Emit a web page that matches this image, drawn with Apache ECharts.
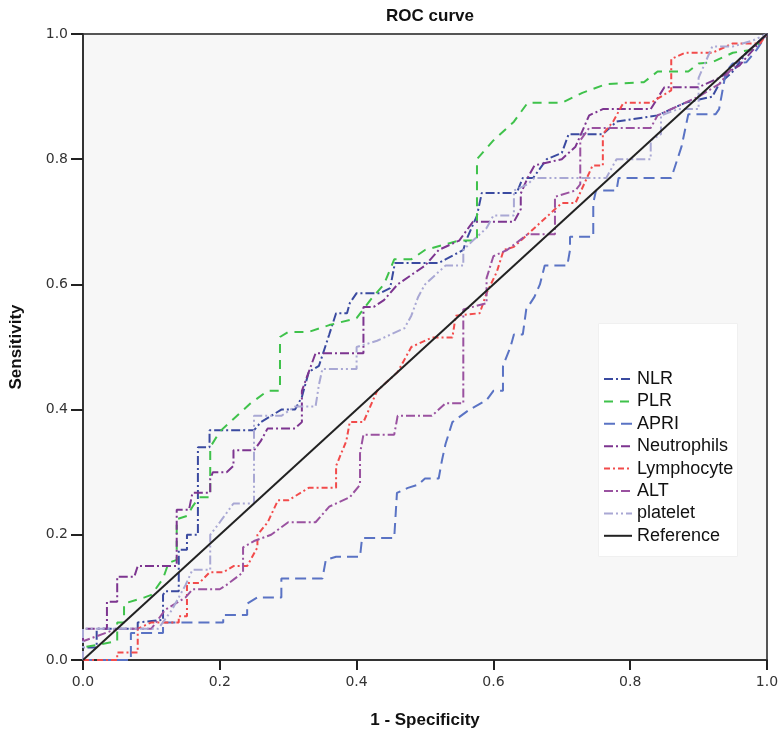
<!DOCTYPE html>
<html>
<head>
<meta charset="utf-8">
<script src="https://cdn.jsdelivr.net/npm/echarts@6/dist/echarts.min.js"></script>
<style>
html,body{margin:0;padding:0;background:#fff;}
#chart{width:784px;height:751px;}
</style>
</head>
<body>
<div id="chart"></div>
<script>
// ---- data ----
const xTicks = [0, 0.2, 0.4, 0.6, 0.8, 1.0];
const seriesNames = ['NLR', 'PLR', 'APRI', 'Neutrophils', 'Lymphocyte', 'ALT', 'platelet', 'Reference'];

const nlr = [[0,0],[0,0.02],[0.02,0.02],[0.02,0.05],[0.08,0.05],[0.08,0.06],[0.117,0.064],[0.117,0.104],[0.12,0.11],[0.14,0.11],[0.14,0.176],[0.152,0.176],[0.152,0.2],[0.168,0.2],[0.168,0.34],[0.185,0.34],[0.185,0.367],[0.25,0.367],[0.26,0.38],[0.29,0.4],[0.31,0.4],[0.32,0.42],[0.33,0.46],[0.345,0.47],[0.354,0.5],[0.36,0.52],[0.37,0.554],[0.386,0.554],[0.39,0.57],[0.4,0.586],[0.434,0.586],[0.449,0.594],[0.456,0.634],[0.52,0.634],[0.53,0.64],[0.556,0.655],[0.56,0.67],[0.576,0.71],[0.583,0.746],[0.634,0.746],[0.643,0.77],[0.658,0.77],[0.678,0.8],[0.7,0.81],[0.71,0.84],[0.76,0.84],[0.78,0.86],[0.84,0.87],[0.88,0.89],[0.92,0.9],[0.93,0.92],[0.95,0.94],[0.97,0.97],[1,1]];

const plr = [[0,0],[0,0.02],[0.025,0.025],[0.05,0.03],[0.05,0.06],[0.06,0.06],[0.06,0.09],[0.09,0.1],[0.1,0.104],[0.117,0.13],[0.125,0.155],[0.137,0.16],[0.137,0.225],[0.152,0.23],[0.16,0.245],[0.17,0.26],[0.186,0.26],[0.186,0.34],[0.2,0.365],[0.22,0.385],[0.245,0.41],[0.27,0.43],[0.288,0.43],[0.288,0.516],[0.3,0.524],[0.33,0.524],[0.36,0.535],[0.4,0.546],[0.42,0.575],[0.44,0.6],[0.455,0.64],[0.48,0.64],[0.5,0.655],[0.55,0.67],[0.576,0.67],[0.576,0.8],[0.6,0.83],[0.63,0.86],[0.65,0.89],[0.7,0.89],[0.73,0.906],[0.765,0.92],[0.82,0.923],[0.84,0.94],[0.885,0.94],[0.9,0.953],[0.92,0.955],[0.95,0.97],[0.98,0.975],[1,1]];

const apri = [[0,0],[0.07,0],[0.07,0.043],[0.117,0.043],[0.117,0.06],[0.205,0.06],[0.205,0.072],[0.24,0.072],[0.24,0.09],[0.255,0.1],[0.29,0.1],[0.29,0.13],[0.35,0.13],[0.355,0.16],[0.37,0.165],[0.405,0.165],[0.408,0.195],[0.455,0.195],[0.459,0.267],[0.475,0.275],[0.49,0.28],[0.5,0.29],[0.52,0.29],[0.525,0.32],[0.53,0.345],[0.54,0.38],[0.565,0.4],[0.59,0.415],[0.6,0.43],[0.614,0.43],[0.614,0.47],[0.625,0.5],[0.63,0.52],[0.643,0.52],[0.648,0.56],[0.66,0.58],[0.668,0.6],[0.675,0.63],[0.708,0.63],[0.712,0.655],[0.712,0.676],[0.746,0.676],[0.746,0.73],[0.75,0.75],[0.78,0.75],[0.783,0.77],[0.86,0.77],[0.866,0.79],[0.875,0.82],[0.885,0.872],[0.925,0.872],[0.93,0.88],[0.94,0.94],[0.95,0.953],[0.97,0.955],[0.985,0.975],[1,1]];

const neutrophils = [[0,0],[0,0.05],[0.035,0.05],[0.035,0.093],[0.05,0.093],[0.05,0.133],[0.075,0.133],[0.08,0.15],[0.137,0.15],[0.137,0.24],[0.155,0.24],[0.16,0.267],[0.186,0.267],[0.186,0.29],[0.19,0.3],[0.21,0.3],[0.22,0.31],[0.22,0.335],[0.25,0.335],[0.26,0.35],[0.27,0.37],[0.31,0.37],[0.32,0.38],[0.32,0.43],[0.33,0.46],[0.34,0.49],[0.41,0.49],[0.41,0.564],[0.425,0.564],[0.44,0.575],[0.46,0.6],[0.5,0.63],[0.52,0.655],[0.55,0.67],[0.57,0.7],[0.63,0.7],[0.64,0.72],[0.64,0.745],[0.65,0.77],[0.66,0.79],[0.7,0.8],[0.72,0.82],[0.74,0.87],[0.76,0.88],[0.83,0.88],[0.85,0.915],[0.9,0.915],[0.93,0.93],[0.96,0.95],[1,1]];

const lymphocyte = [[0,0],[0.05,0],[0.05,0.012],[0.08,0.012],[0.08,0.05],[0.1,0.06],[0.14,0.06],[0.14,0.07],[0.152,0.07],[0.152,0.123],[0.17,0.123],[0.185,0.14],[0.205,0.14],[0.22,0.15],[0.24,0.15],[0.255,0.18],[0.255,0.2],[0.27,0.22],[0.285,0.255],[0.3,0.255],[0.33,0.275],[0.37,0.275],[0.37,0.31],[0.385,0.35],[0.39,0.38],[0.41,0.38],[0.43,0.43],[0.46,0.46],[0.48,0.5],[0.51,0.515],[0.54,0.515],[0.545,0.55],[0.58,0.554],[0.59,0.586],[0.605,0.62],[0.615,0.655],[0.63,0.66],[0.67,0.7],[0.7,0.73],[0.72,0.73],[0.745,0.79],[0.76,0.79],[0.76,0.84],[0.775,0.86],[0.79,0.89],[0.83,0.89],[0.86,0.91],[0.86,0.96],[0.88,0.97],[0.92,0.97],[0.95,0.985],[0.99,0.985],[1,1]];

const alt = [[0,0],[0,0.03],[0.05,0.05],[0.1,0.05],[0.12,0.08],[0.15,0.1],[0.16,0.113],[0.2,0.113],[0.21,0.12],[0.234,0.14],[0.234,0.18],[0.25,0.19],[0.275,0.2],[0.3,0.22],[0.34,0.22],[0.36,0.245],[0.39,0.26],[0.405,0.28],[0.405,0.33],[0.41,0.36],[0.455,0.36],[0.46,0.39],[0.51,0.39],[0.53,0.41],[0.556,0.41],[0.556,0.56],[0.59,0.57],[0.59,0.61],[0.6,0.645],[0.62,0.655],[0.65,0.68],[0.69,0.68],[0.69,0.74],[0.72,0.75],[0.727,0.76],[0.727,0.83],[0.74,0.85],[0.83,0.85],[0.84,0.87],[0.86,0.88],[0.9,0.9],[0.93,0.92],[0.96,0.96],[1,1]];

const platelet = [[0,0],[0,0.05],[0.11,0.05],[0.13,0.08],[0.15,0.12],[0.16,0.144],[0.186,0.144],[0.186,0.2],[0.2,0.22],[0.22,0.25],[0.25,0.25],[0.25,0.39],[0.29,0.39],[0.31,0.405],[0.34,0.405],[0.345,0.44],[0.35,0.465],[0.4,0.465],[0.4,0.5],[0.43,0.51],[0.47,0.53],[0.48,0.55],[0.49,0.58],[0.5,0.6],[0.53,0.63],[0.556,0.63],[0.556,0.655],[0.57,0.67],[0.59,0.69],[0.6,0.71],[0.63,0.71],[0.63,0.75],[0.65,0.76],[0.66,0.77],[0.765,0.77],[0.78,0.8],[0.83,0.8],[0.83,0.83],[0.845,0.84],[0.845,0.87],[0.87,0.88],[0.9,0.88],[0.9,0.93],[0.92,0.98],[0.95,0.98],[0.98,0.99],[1,1]];

const reference = [[0,0],[1,1]];

// ---- styles ----
const colors = ['#3a4aa0', '#3fc24b', '#5a73c4', '#7d3590', '#f24b4b', '#9a52a0', '#a9a8d4', '#222222'];
const dashes = [[9,3,2,3], [9,7], [11,6], [9,3,2,3], [6,3,2,3], [9,3,2,3], [9,3,2,3,2,3], 'solid'];
const dataSets = [nlr, plr, apri, neutrophils, lymphocyte, alt, platelet, reference];

const series = seriesNames.map((name, i) => ({
  name: name,
  type: 'line',
  data: dataSets[i],
  symbol: 'none',
  showSymbol: false,
  silent: true,
  z: i === 7 ? 10 : 2 + i,
  lineStyle: { color: colors[i], width: 2, type: dashes[i] },
  itemStyle: { color: colors[i] }
}));

const tickFont = { fontFamily: 'DejaVu Sans', fontSize: 14, color: '#333' };

const chart = echarts.init(document.getElementById('chart'), null, { renderer: 'canvas' });
chart.setOption({
  animation: false,
  backgroundColor: '#ffffff',
  title: {
    text: 'ROC curve',
    left: 425, top: 3, textAlign: 'center',
    textStyle: { fontFamily: 'Liberation Sans, Arial', fontSize: 17, fontWeight: 'bold', color: '#111' }
  },
  graphic: [{
    type: 'rect', left: 598, top: 323, z: 5,
    shape: { width: 139, height: 233 },
    style: { fill: '#ffffff', stroke: '#f0f0f0', lineWidth: 1 }
  }],
  legend: {
    data: seriesNames,
    orient: 'vertical',
    left: 603, top: 370,
    itemWidth: 28, itemHeight: 12, itemGap: 4.4,
    padding: 0,
    z: 10,
    itemStyle: { opacity: 0 },
    textStyle: { fontFamily: 'Liberation Sans, Arial', fontSize: 18, color: '#111', width: 98, overflow: 'truncate', ellipsis: '' }
  },
  grid: {
    left: 83, right: 17, top: 34, bottom: 91,
    show: true, backgroundColor: '#f7f7f7', borderColor: '#555', borderWidth: 2
  },
  xAxis: {
    type: 'value', min: 0, max: 1, interval: 0.2,
    name: '1 - Specificity', nameLocation: 'middle', nameGap: 52,
    nameTextStyle: { fontFamily: 'Liberation Sans, Arial', fontSize: 17, fontWeight: 'bold', color: '#111' },
    axisLine: { show: true, lineStyle: { color: '#333', width: 2 } },
    axisTick: { show: true, inside: false, length: 10, lineStyle: { color: '#222', width: 2 } },
    axisLabel: Object.assign({ margin: 15, formatter: v => v.toFixed(1) }, tickFont),
    splitLine: { show: false }
  },
  yAxis: {
    type: 'value', min: 0, max: 1, interval: 0.2,
    name: 'Sensitivity', nameLocation: 'middle', nameGap: 58,
    nameTextStyle: { fontFamily: 'Liberation Sans, Arial', fontSize: 17, fontWeight: 'bold', color: '#111' },
    axisLine: { show: true, lineStyle: { color: '#333', width: 2 } },
    axisTick: { show: true, inside: false, length: 12, lineStyle: { color: '#222', width: 2 } },
    axisLabel: Object.assign({ margin: 15, formatter: v => v.toFixed(1) }, tickFont),
    splitLine: { show: false }
  },
  series: series
});
</script>
</body>
</html>
